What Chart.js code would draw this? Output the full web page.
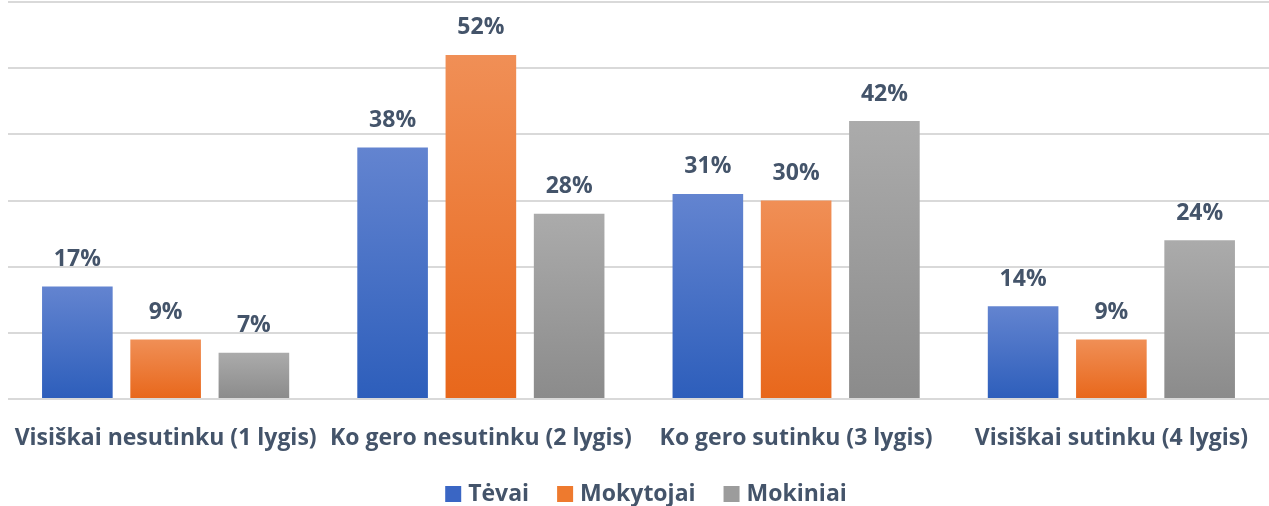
<!DOCTYPE html>
<html>
<head>
<meta charset="utf-8">
<script src="https://cdn.jsdelivr.net/npm/chart.js@4/dist/chart.umd.min.js"></script>
<style>
  html, body { margin: 0; padding: 0; background: #fff; }
  #wrap { width: 1269px; height: 506px; }
</style>
</head>
<body>
<div id="wrap"><canvas id="chart"></canvas></div>
<script>
const categories = ["Visiškai nesutinku (1 lygis)", "Ko gero nesutinku (2 lygis)", "Ko gero sutinku (3 lygis)", "Visiškai sutinku (4 lygis)"];
const tevai = [17, 38, 31, 14];
const mokytojai = [9, 52, 30, 9];
const mokiniai = [7, 28, 42, 24];

const textColor = "#44546a";
const fontFamily = "'Open Sans', 'Liberation Sans', sans-serif";
const boldFont = "bold 23px " + fontFamily;

// vertical gradient for each bar, light at top, darker at baseline
function barGradient(top, bottom) {
    return function (ctx) {
        let chart = ctx.chart;
        if (ctx.type !== "data" || !chart.chartArea) return bottom;
        let y = chart.scales.y;
        let yTop = y.getPixelForValue(ctx.raw);
        let yBase = y.getPixelForValue(0);
        if (!isFinite(yTop) || yTop === yBase) return bottom;
        let g = chart.ctx.createLinearGradient(0, yTop, 0, yBase);
        g.addColorStop(0, top);
        g.addColorStop(1, bottom);
        return g;
    };
}

const valueLabels = {
    id: "valueLabels",
    afterDatasetsDraw(chart) {
        let ctx = chart.ctx;
        ctx.save();
        ctx.font = boldFont;
        ctx.fillStyle = textColor;
        ctx.textAlign = "center";
        ctx.textBaseline = "middle";
        chart.data.datasets.forEach((ds, i) => {
            chart.getDatasetMeta(i).data.forEach((bar, j) => {
                ctx.fillText(ds.data[j] + "%", bar.x, bar.y - 27);
            });
        });
        ctx.restore();
    }
};

// legend drawn by hand so the item spacing can differ from its height
const bottomLegend = {
    id: "bottomLegend",
    afterDraw(chart) {
        let ctx = chart.ctx;
        let box = 16, gap = 7, spacing = 28;
        let y = 494;
        ctx.save();
        ctx.font = boldFont;
        ctx.textBaseline = "middle";
        let items = chart.data.datasets.map(ds => ({ ds: ds, w: ctx.measureText(ds.label).width }));
        let total = items.reduce((s, it) => s + box + gap + it.w, 0) + spacing * (items.length - 1);
        let x = 646 - total / 2;
        items.forEach(it => {
            ctx.fillStyle = it.ds.legendColor;
            ctx.fillRect(x, y - box / 2, box, box);
            ctx.fillStyle = textColor;
            ctx.textAlign = "left";
            ctx.fillText(it.ds.label, x + box + gap, y);
            x += box + gap + it.w + spacing;
        });
        ctx.restore();
    }
};

new Chart(document.getElementById("chart"), {
    type: "bar",
    data: {
        labels: categories,
        datasets: [
            { label: "Tėvai", data: tevai, backgroundColor: barGradient("#6384d0", "#2d5ebb"), legendColor: "#3a66c4" },
            { label: "Mokytojai", data: mokytojai, backgroundColor: barGradient("#f08f56", "#e8671b"), legendColor: "#ee7a2e" },
            { label: "Mokiniai", data: mokiniai, backgroundColor: barGradient("#ababab", "#8b8b8b"), legendColor: "#9c9c9c" }
        ]
    },
    options: {
        responsive: true,
        maintainAspectRatio: false,
        animation: false,
        layout: { padding: { left: 8, right: -5, top: 2, bottom: 47 } },
        datasets: { bar: { categoryPercentage: 0.84, barPercentage: 0.8 } },
        scales: {
            x: {
                grid: { display: false },
                border: { display: false },
                ticks: { color: textColor, font: { family: fontFamily, size: 23, weight: "bold" }, padding: 18, maxRotation: 0, autoSkip: false },
                afterFit(scale) {
                    scale.paddingLeft = 0;
                    scale.paddingRight = 0;
                    scale.height = 60;
                }
            },
            y: {
                min: 0,
                max: 60,
                ticks: { stepSize: 10, display: false },
                border: { display: false },
                grid: { color: "#d9d9d9", lineWidth: 2, drawTicks: false }
            }
        },
        plugins: {
            legend: { display: false },
            tooltip: { enabled: false }
        }
    },
    plugins: [valueLabels, bottomLegend]
});
</script>
</body>
</html>
